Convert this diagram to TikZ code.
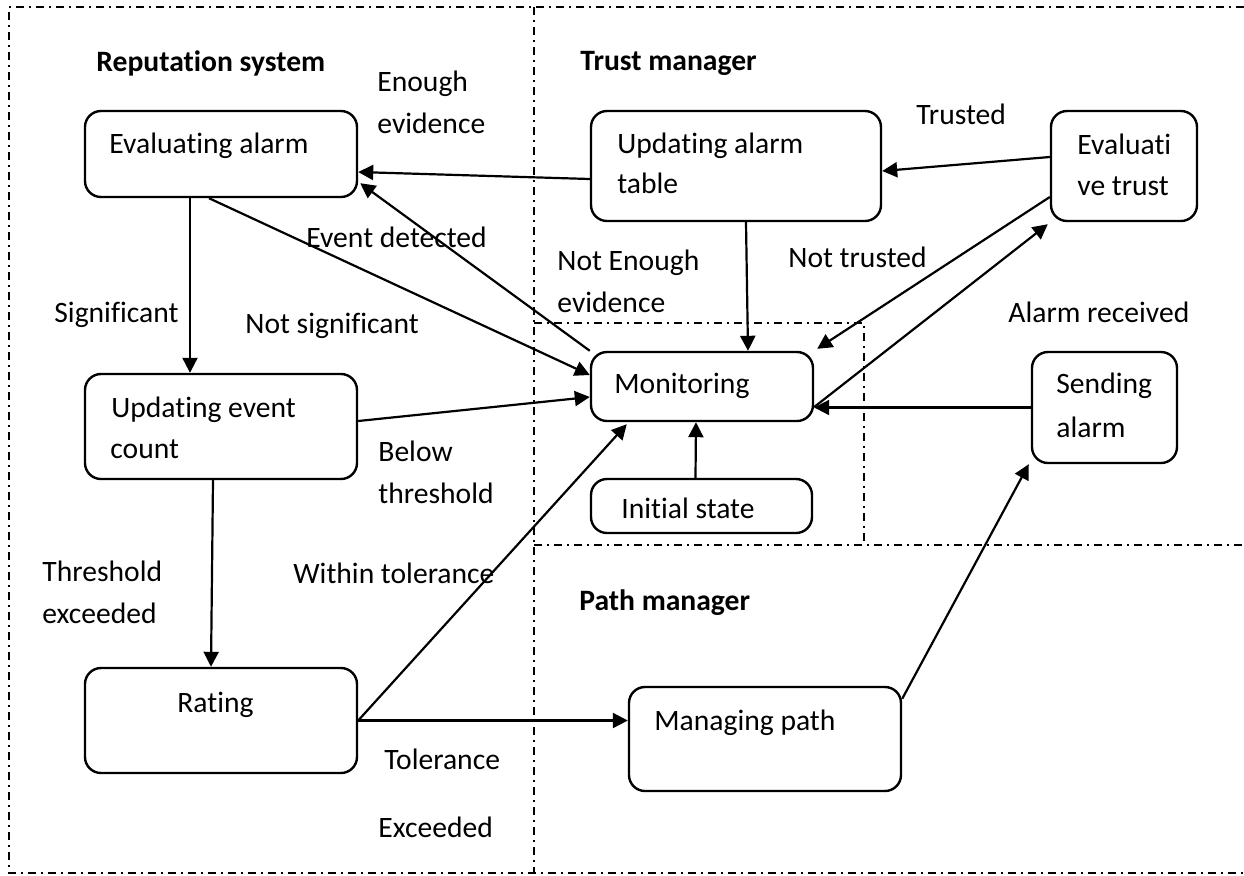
\documentclass[tikz,border=0pt]{standalone}
\usepackage{fontspec}
\setmainfont{Carlito}[Ligatures=NoCommon]
\usetikzlibrary{arrows.meta,fit,calc}
\begin{document}
\begin{tikzpicture}[x=0.5pt,y=-0.5pt,
  stbox/.style={draw, line width=1.2pt, rounded corners=8pt, inner sep=0pt},
  conn/.style={line width=1.1pt, -{Triangle[length=7.5pt,width=7.5pt]}},
  zone/.style={line width=0.9pt, dash pattern=on 4pt off 2.5pt on 1pt off 2.5pt},
  lbl/.style={anchor=base west, inner sep=0pt, font=\fontsize{14.8}{21}\selectfont},
  head/.style={anchor=base west, inner sep=0pt, font=\fontsize{14.8}{21}\selectfont\bfseries}]
\useasboundingbox (0,0) rectangle (1244,875);

% zone borders
\draw[zone] (1244,7) -- (9,7) -- (9,873) -- (1244,873);
\draw[zone] (534,7) -- (534,873);
\draw[zone] (534,323) -- (864,323) -- (864,545);
\draw[zone] (534,545) -- (1244,545);

% boxes
\node[stbox, fit={(85,111) (357,197)}] (ea) {};
\node[stbox, fit={(85,374) (357,479)}] (uec) {};
\node[stbox, fit={(85,668) (357,773)}] (rt) {};
\node[stbox, fit={(591,111) (881,221)}] (uat) {};
\node[stbox, fit={(1051,111) (1197,221)}] (et) {};
\node[stbox, fit={(591,352) (813,421)}] (mon) {};
\node[stbox, fit={(591,479) (812,533)}] (ini) {};
\node[stbox, fit={(1032,352) (1177,463)}] (sa) {};
\node[stbox, fit={(629,687) (901,791)}] (mp) {};

% box texts
\node[lbl] (tea) at (109,153) {Evaluating alarm};
\node[lbl] (tuec1) at (111,417) {Updating event};
\node[lbl] (tuec2) at (110,458) {count};
\node[lbl] (trt) at (177,712) {Rating};
\node[lbl] (tuat1) at (617,153) {Updating alarm};
\node[lbl] (tuat2) at (617,193) {table};
\node[lbl] (tet1) at (1077,154) {Evaluati};
\node[lbl] (tet2) at (1077,195) {ve trust};
\node[lbl] (tmon) at (614,393) {Monitoring};
\node[lbl] (tini) at (621,518) {Initial state};
\node[lbl] (tsa1) at (1056,393) {Sending};
\node[lbl] (tsa2) at (1056,437) {alarm};
\node[lbl] (tmp) at (654,730) {Managing path};

% headings
\node[head] (hrs) at (96,71) {Reputation system};
\node[head] (htm) at (580,70) {Trust manager};
\node[head] (hpm) at (579,610) {Path manager};

% connectors
\draw[conn] ($(uat.west)+(0,13)$) -- ($(ea.east)+(0,18)$);
\draw[conn] ($(et.west)+(0,-9)$) -- ($(uat.east)+(0,5)$);
\draw[conn] (mon.north west) -- ($(ea.south east)+(2,-15)$);
\draw[conn] ($(ea.south)+(-12,0)$) -- ($(mon.west)+(0,-11.5)$);
\draw[conn] ($(ea.south)+(-31,0)$) -- ($(uec.north)+(-31,0)$);
\draw[conn] ($(uec.east)+(0,-5.5)$) -- ($(mon.west)+(0,10.5)$);
\draw[conn] ($(uec.south)+(-8,0)$) -- ($(rt.north)+(-10,0)$);
\draw[conn] (rt.east) -- ($(mon.south west)+(37,2)$);
\draw[conn] (rt.east) -- (rt.east -| mp.west);
\draw[conn] ($(uat.south)+(10,0)$) -- ($(mon.north)+(46,0)$);
\draw[conn] ($(et.west)+(0,31)$) -- ($(mon.north east)+(3,-2)$);
\draw[conn] ($(mon.east)+(0,20.5)$) -- ($(et.south west)+(-2,2)$);
\draw[conn] (sa.west) -- (sa.west -| mon.east);
\draw[conn] ($(ini.north)+(-6,0)$) -- ($(mon.south)+(-6,0)$);
\draw[conn] ($(mp.north east)+(0,13)$) -- ($(sa.south west)+(-2,0)$);

% connector labels
\node[lbl] (l1a) at (377,91) {Enough};
\node[lbl] (l1b) at (377,133) {evidence};
\node[lbl] (l2) at (916,124) {Trusted};
\node[lbl] (l3) at (306,247) {Event detected};
\node[lbl] (l4a) at (557,270) {Not Enough};
\node[lbl] (l4b) at (557,312) {evidence};
\node[lbl] (l5) at (788,267) {Not trusted};
\node[lbl] (l6) at (54,322) {Significant};
\node[lbl] (l7) at (245,333) {Not significant};
\node[lbl] (l8) at (1008,322) {Alarm received};
\node[lbl] (l9a) at (378,461) {Below};
\node[lbl] (l9b) at (378,503) {threshold};
\node[lbl] (l10a) at (42,581) {Threshold};
\node[lbl] (l10b) at (42,623) {exceeded};
\node[lbl] (l11) at (293,583) {Within tolerance};
\node[lbl] (l12a) at (384,769) {Tolerance};
\node[lbl] (l12b) at (378,837) {Exceeded};
\end{tikzpicture}
\end{document}
